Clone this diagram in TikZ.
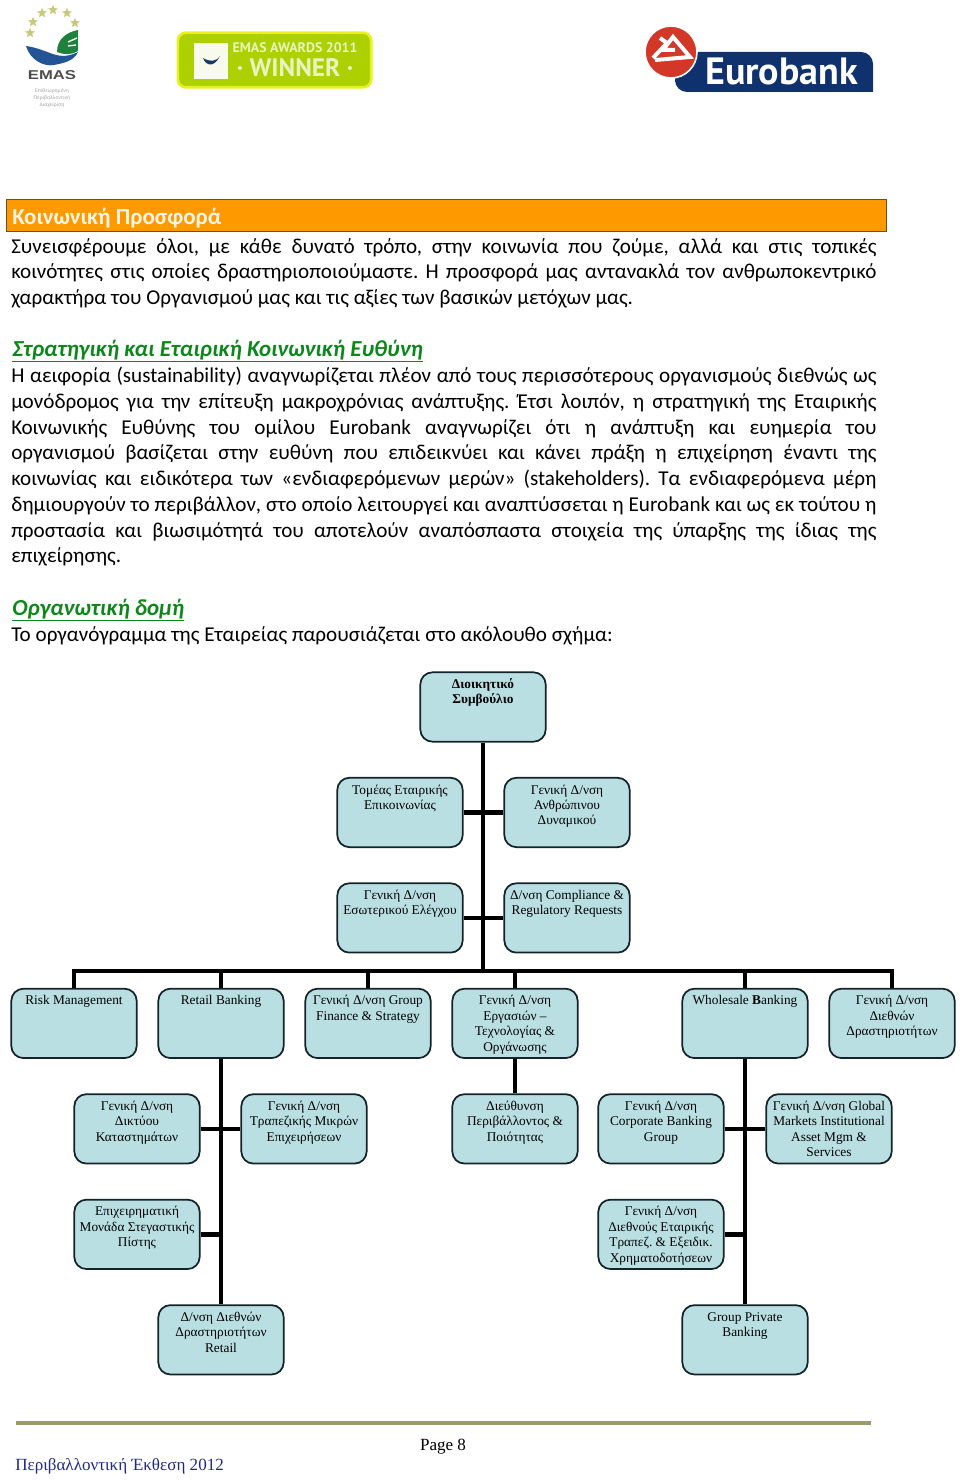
\documentclass[tikz,border=0pt]{standalone}
\usepackage{fontspec}
\usepackage{graphicx}
\setmainfont{Liberation Serif}
\newfontfamily\bodyfont{Carlito}
\newfontfamily\logofont{PT Sans}
\newfontfamily\emasfont{Liberation Sans}
\usetikzlibrary{positioning, shapes.geometric}
\definecolor{orgblue}{RGB}{185, 223, 227}
\definecolor{orgedge}{RGB}{20, 35, 40}
\definecolor{barorange}{RGB}{255, 153, 0}
\definecolor{baredge}{RGB}{100, 80, 50}
\definecolor{headgreen}{RGB}{12, 135, 25}
\definecolor{footrule}{RGB}{156, 154, 106}
\definecolor{footnavy}{RGB}{31, 42, 128}
\definecolor{euronavy}{RGB}{15, 50, 110}
\definecolor{eurored}{RGB}{210, 55, 40}
\definecolor{badgegreen}{RGB}{172, 208, 0}
\definecolor{badgeyellow}{RGB}{232, 240, 30}
\definecolor{emasblue}{RGB}{35, 85, 150}
\definecolor{emasgreen}{RGB}{30, 130, 60}
\definecolor{emasstar}{RGB}{200, 200, 125}
\newcommand{\orgtext}[1]{\parbox[c][52pt][t]{92pt}{\centering\vspace*{4.1pt}\strut #1\par}}

\begin{document}
\frenchspacing
\begin{tikzpicture}[x=0.75pt, y=-0.75pt, node distance=79.1pt,
    orgbox/.style={draw=orgedge, line width=1.3pt, fill=orgblue, rectangle, rounded corners=9pt, inner sep=0pt,
        minimum width=94pt, minimum height=52pt, font=\fontsize{10}{11.55}\selectfont},
    orglink/.style={draw=black, line width=3.5pt},
    bodytext/.style={anchor=north west, inner sep=0pt, text width=649pt, align=justify,
        font=\bodyfont\frenchspacing\fontsize{15.85}{19.3}\selectfont},
    greenhead/.style={anchor=base west, inner sep=0pt, text=headgreen, font=\bodyfont\fontsize{17.2}{20}\selectfont\bfseries\itshape}]
    \useasboundingbox (0,0) rectangle (960,1480);

    % logos
    \foreach \sx/\sy [count=\si] in {30/33, 33/22, 42/13, 53/10, 67/13, 75/23}
        \node[star, star points=5, star point ratio=2.4, fill=emasstar, inner sep=0pt, minimum size=8pt] (emasstar\si) at (\sx,\sy) {};
    \fill[emasblue] (26,46) .. controls (30,60) and (44,67) .. (54,65) .. controls (64,63) and (74,61) .. (78,52) .. controls (66,58) and (58,56) .. (50,53) .. controls (42,50) and (34,47) .. (26,46) -- cycle;
    \fill[emasgreen] (57,52) .. controls (57,38) and (68,32) .. (78,30) -- (78,51) .. controls (72,55) and (64,55) .. (57,52) -- cycle;
    \draw[white, line width=1pt] (68,42) -- (77,38) (68,46) -- (76,45);
    \node[inner sep=0pt, text=black!70, font=\emasfont\bfseries\fontsize{9.6}{12}\selectfont] (emasname) at (52,75.5) {\scalebox{1.3}[1]{EMAS}};
    \node[inner sep=0pt, text=black!35, align=center, font=\bodyfont\fontsize{4.2}{5.6}\selectfont] (emassub) at (52,98) {Επιθεωρημένη\\Περιβαλλοντική\\Διαχείριση};

    \node[draw=badgeyellow, line width=2pt, fill=badgegreen, rounded corners=6pt, minimum width=145pt, minimum height=41pt, inner sep=0pt] (badge) at (274.5,60) {};
    \node[fill=white!92!badgegreen, minimum width=25pt, minimum height=27pt, inner sep=0pt] (badgeicon) at (211,61) {};
    \fill[emasblue!70!black] (203,58) .. controls (206,66) and (214,68) .. (220,56) .. controls (216,62) and (210,62) .. (203,58) -- cycle;
    \node[inner sep=0pt, text=white!75!badgegreen, font=\logofont\bfseries\fontsize{10.4}{11}\selectfont] (badgeyear) at (295,48) {EMAS AWARDS 2011};
    \node[inner sep=0pt, text=white!75!badgegreen, font=\logofont\bfseries\fontsize{19}{21}\selectfont] (badgewin) at (295,68) {· WINNER ·};

    \fill[euronavy] (690,52) [rounded corners=9pt] -- (873,52) [sharp corners] -- (873,92) [rounded corners=9pt] -- (675,92) -- (675,70) [sharp corners] -- cycle;
    \draw[white, line width=1.2pt, fill=eurored] (671,52) circle [radius=26];
    \draw[white, line width=3pt, line join=miter] (653,58) -- (667,43) -- (660,38) (655,60) -- (690,57) -- (673,37) -- (663,50) -- (675,50);
    \node[anchor=base west, inner sep=0pt, text=white, font=\logofont\bfseries\fontsize{28.5}{32}\selectfont] (eurobank) at (705,85) {Eurobank};

    % text above the chart
    \node[draw=baredge, line width=0.8pt, fill=barorange, minimum width=660pt, minimum height=24pt, inner sep=0pt] (bar) at (446.5,215.5) {};
    \node[anchor=base west, inner sep=0pt, text=white!90!barorange, font=\bodyfont\fontsize{17.2}{20}\selectfont\bfseries] (bartitle) at (12,224) {Κοινωνική Προσφορά};
    \node[bodytext] (intro) at (11,238) {Συνεισφέρουμε όλοι, με κάθε δυνατό τρόπο, στην κοινωνία που ζούμε, αλλά και στις τοπικές\linebreak
κοινότητες στις οποίες δραστηριοποιούμαστε. Η προσφορά μας αντανακλά τον ανθρωποκεντρικό\linebreak
χαρακτήρα του Οργανισμού μας και τις αξίες των βασικών μετόχων μας.};
    \node[greenhead] (csrhead) at (12,356) {\underline{Στρατηγική και Εταιρική Κοινωνική Ευθύνη}};
    \node[bodytext] (csr) at (11,367) {Η αειφορία (sustainability) αναγνωρίζεται πλέον από τους περισσότερους οργανισμούς διεθνώς ως\linebreak
μονόδρομος για την επίτευξη μακροχρόνιας ανάπτυξης. Έτσι λοιπόν, η στρατηγική της Εταιρικής\linebreak
Κοινωνικής Ευθύνης του ομίλου Eurobank αναγνωρίζει ότι η ανάπτυξη και ευημερία του\linebreak
οργανισμού βασίζεται στην ευθύνη που επιδεικνύει και κάνει πράξη η επιχείρηση έναντι της\linebreak
κοινωνίας και ειδικότερα των «ενδιαφερόμενων μερών» (stakeholders). Τα ενδιαφερόμενα μέρη\linebreak
δημιουργούν το περιβάλλον, στο οποίο λειτουργεί και αναπτύσσεται η Eurobank και ως εκ τούτου η\linebreak
προστασία και βιωσιμότητά του αποτελούν αναπόσπαστα στοιχεία της ύπαρξης της ίδιας της\linebreak
επιχείρησης.};
    \node[greenhead] (orghead) at (12,615) {\underline{Οργανωτική δομή}};
    \node[bodytext] (orgintro) at (11,626) {Το οργανόγραμμα της Εταιρείας παρουσιάζεται στο ακόλουθο σχήμα:};

    % chart
    \node[orgbox] (board) at (483,707) {\orgtext{\textbf{Διοικητικό}\\\textbf{Συμβούλιο}}};
    \node[orgbox, below of=board, xshift=-62.25pt] (comm) {\orgtext{Τομέας Εταιρικής\\Επικοινωνίας}};
    \node[orgbox, below of=board, xshift=63pt] (hr) {\orgtext{Γενική Δ/νση\\Ανθρώπινου\\Δυναμικού}};
    \node[orgbox, below of=comm] (audit) {\orgtext{Γενική Δ/νση\\Εσωτερικού Ελέγχου}};
    \node[orgbox, below of=hr] (compliance) {\orgtext{Δ/νση Compliance \&\\Regulatory Requests}};

    \node[orgbox, below of=audit, xshift=-24pt] (finance) {\orgtext{Γενική Δ/νση Group\\Finance \& Strategy}};
    \node[orgbox, left of=finance, node distance=110.25pt] (retail) {\orgtext{Retail Banking}};
    \node[orgbox, left of=retail, node distance=110.25pt] (risk) {\orgtext{Risk Management}};
    \node[orgbox, below of=compliance, xshift=-39pt] (ops) {\orgtext{Γενική Δ/νση\\Εργασιών --\\Τεχνολογίας \&\\Οργάνωσης}};
    \node[orgbox, right of=ops, node distance=172.5pt] (wholesale) {\orgtext{Wholesale \textbf{B}anking}};
    \node[orgbox, right of=wholesale, node distance=110.25pt] (intl) {\orgtext{Γενική Δ/νση\\Διεθνών\\Δραστηριοτήτων}};

    \node[orgbox, below of=retail, xshift=-63pt] (branch) {\orgtext{Γενική Δ/νση\\Δικτύου\\Καταστημάτων}};
    \node[orgbox, below of=retail, xshift=62.25pt] (smallbiz) {\orgtext{Γενική Δ/νση\\Τραπεζικής Μικρών\\Επιχειρήσεων}};
    \node[orgbox, below of=ops] (env) {\orgtext{Διεύθυνση\\Περιβάλλοντος \&\\Ποιότητας}};
    \node[orgbox, below of=wholesale, xshift=-63pt] (corp) {\orgtext{Γενική Δ/νση\\Corporate Banking\\Group}};
    \node[orgbox, below of=wholesale, xshift=63pt] (markets) {\orgtext{Γενική Δ/νση Global\\Markets Institutional\\Asset Mgm \&\\Services}};

    \node[orgbox, below of=branch] (mortgage) {\orgtext{Επιχειρηματική\\Μονάδα Στεγαστικής\\Πίστης}};
    \node[orgbox, below of=corp] (intlcorp) {\orgtext{Γενική Δ/νση\\Διεθνούς Εταιρικής\\Τραπεζ. \& Εξειδικ.\\Χρηματοδοτήσεων}};
    \node[orgbox, below of=mortgage, xshift=63pt] (retailintl) {\orgtext{Δ/νση Διεθνών\\Δραστηριοτήτων\\Retail}};
    \node[orgbox, below of=intlcorp, xshift=63pt] (private) {\orgtext{Group Private\\Banking}};

    \coordinate (bus) at (483,971);
    \draw[orglink] (board) -- (bus);
    \draw[orglink] (comm) -- (hr);
    \draw[orglink] (audit) -- (compliance);
    \draw[orglink] (risk.north) |- (bus) -| (intl.north);
    \draw[orglink] (retail) -- (retail|-bus);
    \draw[orglink] (finance) -- (finance|-bus);
    \draw[orglink] (ops) -- (ops|-bus);
    \draw[orglink] (wholesale) -- (wholesale|-bus);
    \draw[orglink] (retail) -- (retailintl);
    \draw[orglink] (branch) -- (smallbiz);
    \draw[orglink] (mortgage) -- (mortgage-|retail);
    \draw[orglink] (ops) -- (env);
    \draw[orglink] (wholesale) -- (private);
    \draw[orglink] (corp) -- (markets);
    \draw[orglink] (intlcorp) -- (intlcorp-|wholesale);

    % footer
    \node[fill=footrule, minimum width=641pt, minimum height=3.2pt, inner sep=0pt] (footline) at (443.5,1423) {};
    \node[anchor=base, inner sep=0pt, font=\fontsize{12.8}{14}\selectfont] (pagenum) at (443,1450) {Page 8};
    \node[anchor=base west, inner sep=0pt, text=footnavy, font=\fontsize{12.8}{14}\selectfont] (footnote) at (15,1470) {Περιβαλλοντική Έκθεση 2012};
\end{tikzpicture}
\end{document}
